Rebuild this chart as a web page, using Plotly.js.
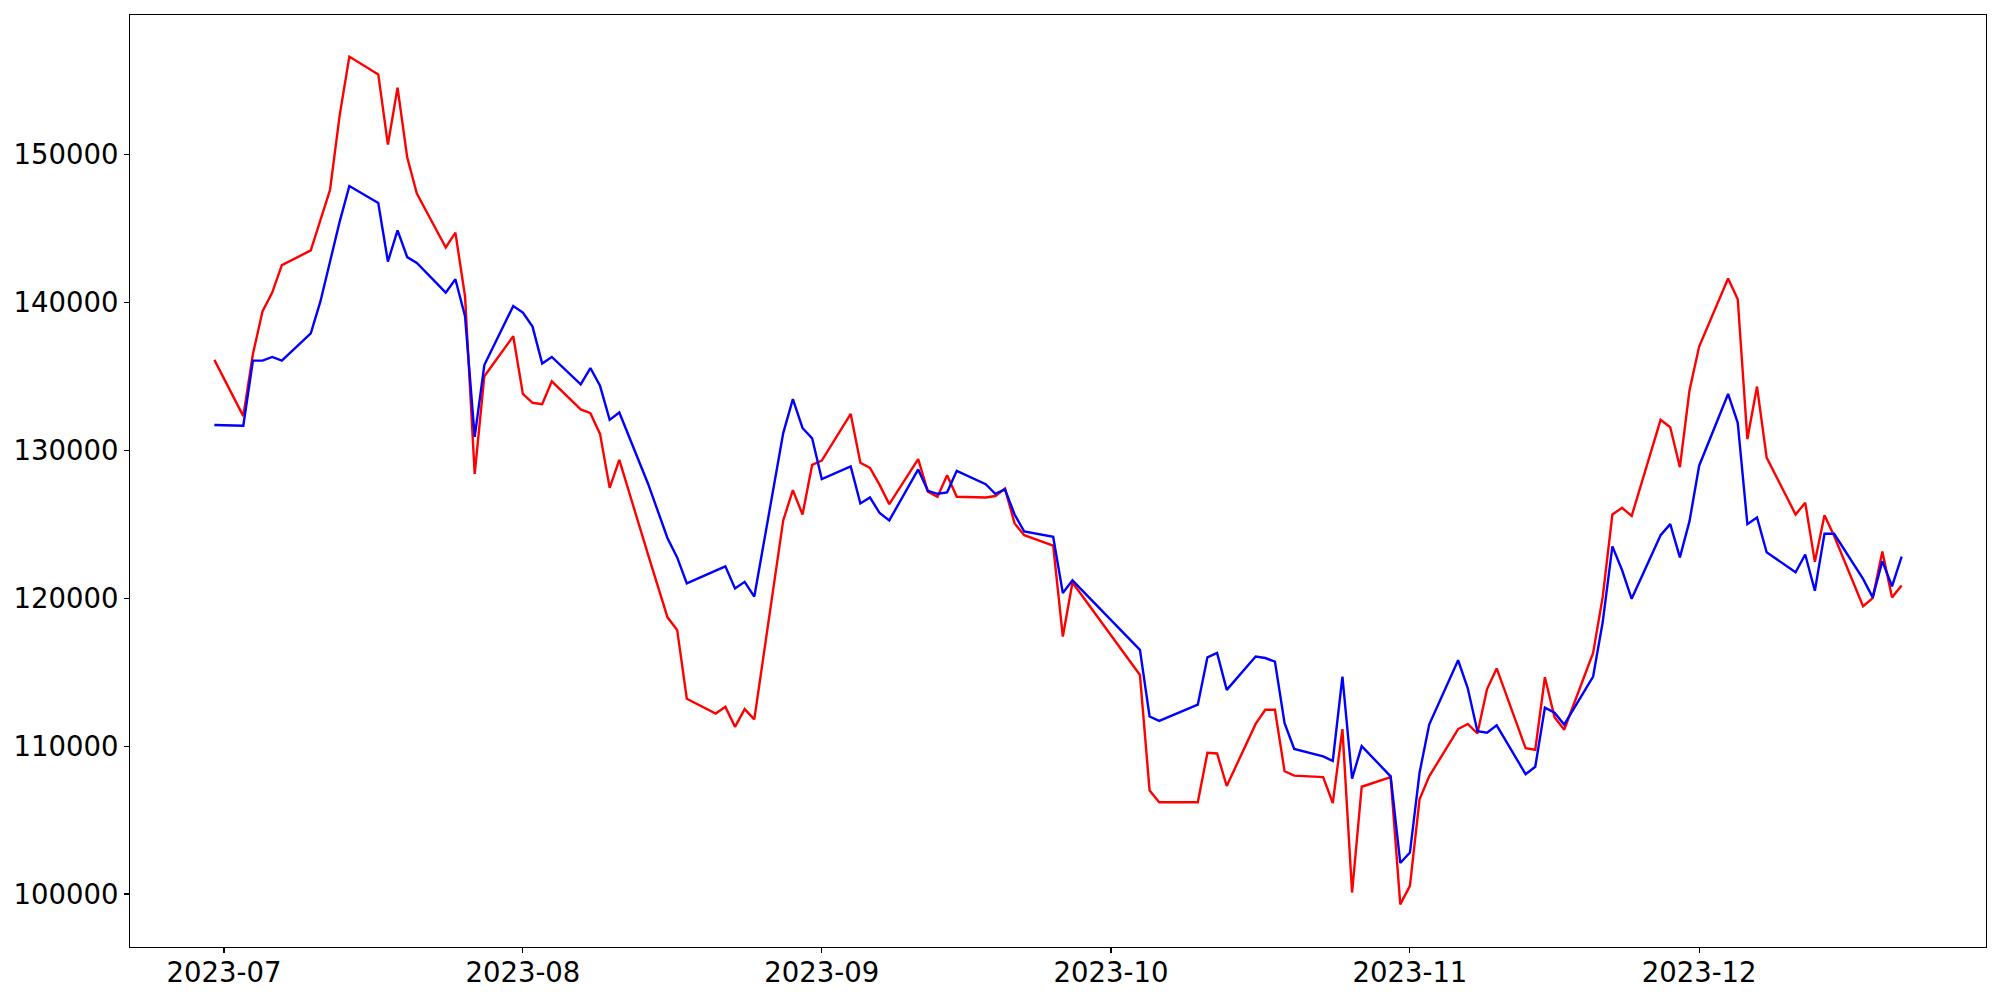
<!DOCTYPE html>
<html>
<head>
<meta charset="utf-8">
<script src="https://cdn.plot.ly/plotly-3.0.1.min.js"></script>
<style>
  html, body { margin: 0; padding: 0; background: #ffffff; }
  #chart { width: 2000px; height: 1000px; }
</style>
</head>
<body>
<div id="chart"></div>
<script>
// Trading days (Korean market calendar), 2023-06-30 .. 2023-12-22
const dates = [
  "2023-06-30",
  "2023-07-03","2023-07-04","2023-07-05","2023-07-06","2023-07-07",
  "2023-07-10","2023-07-11","2023-07-12","2023-07-13","2023-07-14",
  "2023-07-17","2023-07-18","2023-07-19","2023-07-20","2023-07-21",
  "2023-07-24","2023-07-25","2023-07-26","2023-07-27","2023-07-28",
  "2023-07-31","2023-08-01","2023-08-02","2023-08-03","2023-08-04",
  "2023-08-07","2023-08-08","2023-08-09","2023-08-10","2023-08-11",
  "2023-08-14","2023-08-16","2023-08-17","2023-08-18",
  "2023-08-21","2023-08-22","2023-08-23","2023-08-24","2023-08-25",
  "2023-08-28","2023-08-29","2023-08-30","2023-08-31","2023-09-01",
  "2023-09-04","2023-09-05","2023-09-06","2023-09-07","2023-09-08",
  "2023-09-11","2023-09-12","2023-09-13","2023-09-14","2023-09-15",
  "2023-09-18","2023-09-19","2023-09-20","2023-09-21","2023-09-22",
  "2023-09-25","2023-09-26","2023-09-27",
  "2023-10-04","2023-10-05","2023-10-06",
  "2023-10-10","2023-10-11","2023-10-12","2023-10-13",
  "2023-10-16","2023-10-17","2023-10-18","2023-10-19","2023-10-20",
  "2023-10-23","2023-10-24","2023-10-25","2023-10-26","2023-10-27",
  "2023-10-30","2023-10-31","2023-11-01","2023-11-02","2023-11-03",
  "2023-11-06","2023-11-07","2023-11-08","2023-11-09","2023-11-10",
  "2023-11-13","2023-11-14","2023-11-15","2023-11-16","2023-11-17",
  "2023-11-20","2023-11-21","2023-11-22","2023-11-23","2023-11-24",
  "2023-11-27","2023-11-28","2023-11-29","2023-11-30","2023-12-01",
  "2023-12-04","2023-12-05","2023-12-06","2023-12-07","2023-12-08",
  "2023-12-11","2023-12-12","2023-12-13","2023-12-14","2023-12-15",
  "2023-12-18","2023-12-19","2023-12-20","2023-12-21","2023-12-22"
];

const redValues = [
  136100,
  132300,136500,139400,140650,142500,
  143500,145550,147600,152650,156600,
  155400,150650,154500,149800,147350,
  143700,144700,140400,128400,135000,
  137700,133800,133200,133100,134650,
  132750,132500,131100,127450,129350,
  122900,118700,117850,113200,
  112200,112650,111300,112500,111800,
  125250,127300,125650,129000,129300,
  132450,129150,128800,127650,126350,
  129400,127200,126850,128300,126850,
  126800,126900,127400,125050,124250,
  123550,117400,121050,
  114800,107000,106200,
  106200,109550,109500,107300,
  111500,112450,112450,108300,108000,
  107900,106150,111150,100100,107250,
  107900,99300,100550,106400,107950,
  111150,111500,110850,113850,115250,
  109850,109750,114650,111950,111100,
  116300,120100,125650,126100,125550,
  132050,131550,128850,134050,137000,
  141600,140200,130750,134300,129500,
  125650,126450,122450,125600,124200,
  119450,120000,123150,120050,120850
];

const blueValues = [
  131700,
  131650,136050,136050,136300,136050,
  137900,140050,142750,145450,147850,
  146700,142750,144850,143050,142650,
  140650,141550,139050,130900,135750,
  139750,139300,138350,135850,136300,
  134450,135550,134350,132050,132550,
  127700,124050,122750,121000,
  121850,122150,120650,121100,120100,
  131150,133450,131500,130800,128050,
  128900,126400,126800,125750,125250,
  128700,127250,127050,127150,128600,
  127700,127050,127350,125650,124500,
  124150,120350,121200,
  116500,112000,111700,
  112800,116000,116300,113800,
  116050,115950,115700,111550,109800,
  109300,109000,114700,107800,110000,
  107950,102100,102800,108200,111450,
  115800,113900,111000,110900,111400,
  108100,108600,112600,112250,111450,
  114700,118400,123500,121900,119950,
  124250,125000,122750,125200,128950,
  133800,131850,125000,125450,123100,
  121750,122950,120500,124350,124350,
  121300,120050,122500,120800,122800
];

const xTickVals = ["2023-07-01","2023-08-01","2023-09-01","2023-10-01","2023-11-01","2023-12-01"];
const xTickText = ["2023-07","2023-08","2023-09","2023-10","2023-11","2023-12"];
const yTickVals = [100000,110000,120000,130000,140000,150000];
const yTickText = ["100000","110000","120000","130000","140000","150000"];

const tickFont = { family: "DejaVu Sans, sans-serif", size: 27.5, color: "#000000" };

const traces = [
  {
    x: dates, y: redValues, type: "scatter", mode: "lines",
    line: { color: "#ff0000", width: 2.4 }, hoverinfo: "skip", showlegend: false
  },
  {
    x: dates, y: blueValues, type: "scatter", mode: "lines",
    line: { color: "#0000ff", width: 2.4 }, hoverinfo: "skip", showlegend: false
  }
];

const layout = {
  width: 2000, height: 1000,
  paper_bgcolor: "#ffffff", plot_bgcolor: "#ffffff",
  margin: { l: 130, r: 14, t: 15, b: 53, pad: 0 },
  showlegend: false,
  xaxis: {
    type: "date",
    range: ["2023-06-21 06:00", "2023-12-30 18:00"],
    tickmode: "array", tickvals: xTickVals, ticktext: xTickText,
    ticks: "outside", ticklen: 5, tickwidth: 1.1, tickcolor: "#000000",
    ticklabelstandoff: -4,
    showgrid: false, zeroline: false,
    showline: true, mirror: true, linecolor: "#000000", linewidth: 1.1,
    tickfont: tickFont
  },
  yaxis: {
    range: [96419, 159412],
    tickmode: "array", tickvals: yTickVals, ticktext: yTickText,
    ticks: "outside", ticklen: 5, tickwidth: 1.1, tickcolor: "#000000",
    showgrid: false, zeroline: false,
    showline: true, mirror: true, linecolor: "#000000", linewidth: 1.1,
    tickfont: tickFont
  }
};

Plotly.newPlot("chart", traces, layout, { staticPlot: true, displayModeBar: false });
</script>
</body>
</html>
